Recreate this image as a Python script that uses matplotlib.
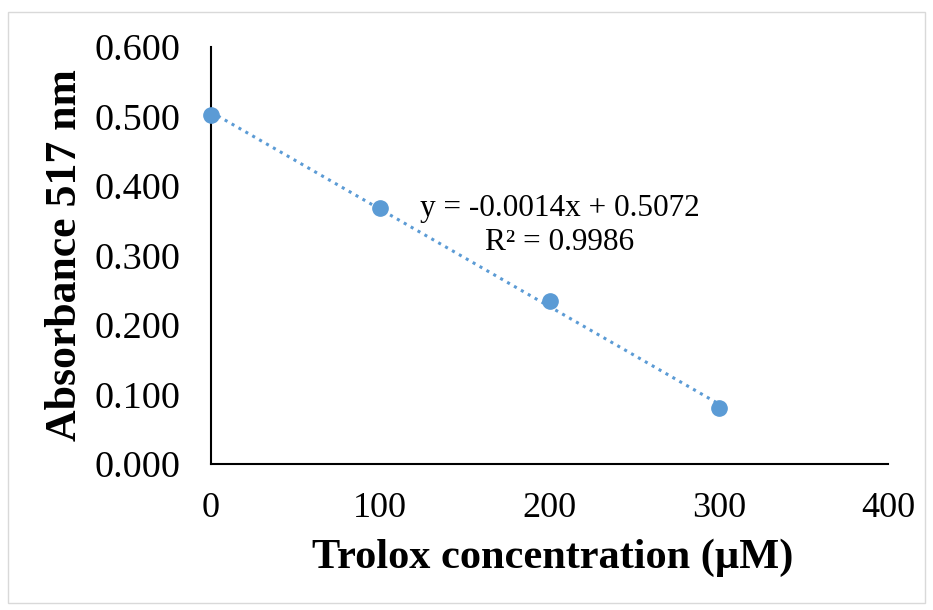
import numpy as np
import matplotlib
matplotlib.use("Agg")
import matplotlib.pyplot as plt
from matplotlib.patches import Rectangle

concentration = [0, 100, 200, 300]
absorbance = [0.502, 0.369, 0.235, 0.080]
x_ticks = [0, 100, 200, 300, 400]
y_ticks = [0.0, 0.1, 0.2, 0.3, 0.4, 0.5, 0.6]
equation_text = "y = -0.0014x + 0.5072\nR² = 0.9986"
x_label = "Trolox concentration (µM)"
y_label = "Absorbance 517 nm"

color = "#5B9BD5"
plt.rcParams['font.family'] = ['Liberation Serif', 'DejaVu Serif']

fig = plt.figure(figsize=(9.33, 6.10), dpi=100)
fig.patches.append(Rectangle((8/933, 1 - 603/610), (925-8)/933, (603-12)/610,
                             transform=fig.transFigure, fill=False,
                             edgecolor="#d9d9d9", linewidth=1.0))
ax = fig.add_axes([211/933, 1 - 464/610, (888-211)/933, (464-47)/610])

slope, intercept = np.polyfit(concentration, absorbance, 1)
xs = np.array([min(concentration), max(concentration)])
ax.plot(xs, slope * xs + intercept, linestyle=(0, (1, 1.6)), color=color,
        linewidth=2.2, zorder=2)
ax.plot(concentration, absorbance, 'o', color=color, markersize=11, zorder=3,
        clip_on=False)

ax.set_xlim(0, 400)
ax.set_ylim(0, 0.6)
ax.set_xticks(x_ticks)
ax.set_yticks(y_ticks)
ax.set_xticklabels([str(v) for v in x_ticks])
ax.set_yticklabels([f"{v:.3f}" for v in y_ticks])
ax.tick_params(axis='both', length=0)
ax.tick_params(axis='x', pad=20, labelsize=26)
ax.tick_params(axis='y', pad=22, labelsize=27.5)
for s in ['top', 'right']:
    ax.spines[s].set_visible(False)
for s in ['left', 'bottom']:
    ax.spines[s].set_linewidth(1.5)
    ax.spines[s].set_color('black')

ax.text(0.515, 0.572, equation_text, transform=ax.transAxes, ha='center',
        va='center', fontsize=22.5, linespacing=1.22)

fig.text(553/933, 1 - 558/610, x_label, ha='center', va='center',
         fontsize=30.5, fontweight='bold')
fig.text(65/933, 1 - 255/610, y_label, ha='center', va='center',
         fontsize=31.5, fontweight='bold', rotation=90)

fig.savefig("out.png", dpi=100)
